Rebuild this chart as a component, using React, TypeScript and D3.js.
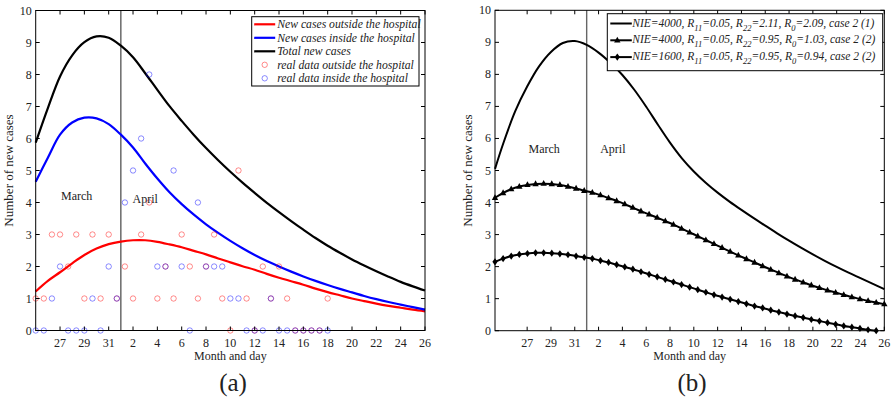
import React from "react";
import * as d3 from "d3";

// ---------- shared axis labels ----------
const tickDays = [2, 4, 6, 8, 10, 12, 14, 16, 18, 20, 22, 24, 26, 28, 30, 32];
const tickLabels = ["27", "29", "31", "2", "4", "6", "8", "10", "12", "14", "16", "18", "20", "22", "24", "26"];
const yTicks = [0, 1, 2, 3, 4, 5, 6, 7, 8, 9, 10];
const monthBoundaryDay = 7;

// ---------- panel (a): model curves, one value per day from 25 March ----------
const modelDaysA = d3.range(0, 33);
const outsideModel = [1.22, 1.55, 1.82, 2.1, 2.36, 2.56, 2.7, 2.78, 2.82, 2.82, 2.77, 2.69, 2.6, 2.49, 2.38, 2.25, 2.13, 2.01, 1.9, 1.77, 1.65, 1.54, 1.43, 1.31, 1.2, 1.1, 1.0, 0.92, 0.84, 0.77, 0.71, 0.65, 0.6];
const insideModel = [4.65, 5.4, 6.12, 6.5, 6.65, 6.63, 6.45, 6.12, 5.72, 5.22, 4.75, 4.32, 3.95, 3.62, 3.32, 3.05, 2.8, 2.57, 2.36, 2.17, 2.0, 1.84, 1.69, 1.55, 1.42, 1.3, 1.19, 1.08, 0.98, 0.89, 0.81, 0.73, 0.65];
const totalModel = [5.87, 6.95, 7.94, 8.6, 9.01, 9.19, 9.15, 8.9, 8.54, 8.04, 7.52, 7.01, 6.55, 6.11, 5.7, 5.32, 4.96, 4.62, 4.3, 3.99, 3.7, 3.42, 3.15, 2.89, 2.65, 2.43, 2.22, 2.03, 1.85, 1.68, 1.52, 1.38, 1.25];

// panel (a): reported cases (observation index 0..36)
const outsideReal = [1, 1, 3, 3, 2, 3, 1, 3, 1, 3, 1, 2, 1, 3, 4, 1, 2, 1, 3, 2, 1, 2, 3, 1, 0, 5, 1, 0, 2, 1, 2, 1, 0, 0, 0, 0, 1];
const insideReal = [0, 0, 1, 2, 0, 0, 0, 1, 0, 2, 1, 4, 5, 6, 8, 2, 2, 5, 2, 0, 4, 2, 2, 2, 1, 1, 0, 0, 0, 1, 0, 0, 0, 0, 0, 0, 0];

const legendA = [
  "New cases outside the hospital",
  "New cases inside the hospital",
  "Total new cases",
  "real data outside the hospital",
  "real data inside the hospital",
];

// ---------- panel (b) ----------
const modelDaysB = [-0.7, ...d3.range(0, 33)];
const case1Model = [5.05, 5.85, 6.85, 7.62, 8.25, 8.7, 8.98, 9.04, 8.92, 8.68, 8.36, 7.98, 7.52, 6.99, 6.42, 5.87, 5.38, 4.97, 4.62, 4.31, 4.03, 3.77, 3.52, 3.28, 3.04, 2.81, 2.59, 2.38, 2.18, 1.99, 1.81, 1.64, 1.47, 1.3];
// sampled model outputs (sample index 0..48 spans the axis)
const case2High = [4.15, 4.3, 4.42, 4.5, 4.55, 4.58, 4.59, 4.58, 4.55, 4.5, 4.44, 4.37, 4.31, 4.23, 4.14, 4.05, 3.95, 3.84, 3.73, 3.63, 3.53, 3.42, 3.31, 3.19, 3.07, 2.95, 2.83, 2.71, 2.59, 2.47, 2.35, 2.24, 2.13, 2.02, 1.91, 1.8, 1.7, 1.6, 1.51, 1.42, 1.34, 1.26, 1.19, 1.12, 1.05, 0.99, 0.93, 0.88, 0.83];
const case2Low = [2.15, 2.25, 2.33, 2.38, 2.41, 2.43, 2.43, 2.42, 2.4, 2.37, 2.33, 2.29, 2.25, 2.19, 2.13, 2.06, 1.99, 1.92, 1.84, 1.76, 1.68, 1.6, 1.52, 1.44, 1.36, 1.28, 1.2, 1.12, 1.05, 0.98, 0.91, 0.84, 0.77, 0.71, 0.64, 0.58, 0.52, 0.46, 0.41, 0.35, 0.3, 0.25, 0.2, 0.15, 0.11, 0.07, 0.03, 0.0];

type Part = [string, boolean];
const legendB: Part[][] = [
  [["NIE=4000, R", false], ["11", true], ["=0.05, R", false], ["22", true], ["=2.11, R", false], ["0", true], ["=2.09, case 2 (1)", false]],
  [["NIE=4000, R", false], ["11", true], ["=0.05, R", false], ["22", true], ["=0.95, R", false], ["0", true], ["=1.03, case 2 (2)", false]],
  [["NIE=1600, R", false], ["11", true], ["=0.05, R", false], ["22", true], ["=0.95, R", false], ["0", true], ["=0.94, case 2 (2)", false]],
];

const FONT = "'Liberation Serif', 'Times New Roman', Times, 'DejaVu Serif', serif";

type Scale = d3.ScaleLinear<number, number>;

function Frame({ x, y, labelX }: { x: Scale; y: Scale; labelX: number }) {
  const [x0, x1] = x.range();
  const [y0, y1] = y.range();
  const t = 4;
  const cx = (x0 + x1) / 2;
  const cy = (y0 + y1) / 2;
  return (
    <g fontFamily={FONT} fill="#222">
      {tickDays.map((d, i) => (
        <g key={"xt" + i}>
          <line x1={x(d)} x2={x(d)} y1={y0} y2={y0 - t} stroke="#000" />
          <line x1={x(d)} x2={x(d)} y1={y1} y2={y1 + t} stroke="#000" />
          <text x={x(d)} y={y0 + 16} fontSize={12} textAnchor="middle">{tickLabels[i]}</text>
        </g>
      ))}
      {yTicks.map((v) => (
        <g key={"yt" + v}>
          <line x1={x0} x2={x0 + t} y1={y(v)} y2={y(v)} stroke="#000" />
          <line x1={x1} x2={x1 - t} y1={y(v)} y2={y(v)} stroke="#000" />
          <text x={x0 - 4} y={y(v) + 4} fontSize={12} textAnchor="end">{v}</text>
        </g>
      ))}
      <rect x={x0} y={y1} width={x1 - x0} height={y0 - y1} fill="none" stroke="#000" strokeWidth={1} />
      <text x={cx} y={y0 + 29} fontSize={12} textAnchor="middle">Month and day</text>
      <text transform={`translate(${labelX},${cy}) rotate(-90)`} fontSize={13} textAnchor="middle">Number of new cases</text>
    </g>
  );
}

const tri = "M0,-3.6L3.2,2.2L-3.2,2.2Z";
const dia = "M0,-3.6L2.6,0L0,3.6L-2.6,0Z";

function PanelA() {
  const x = d3.scaleLinear().domain([0, 32]).range([35.7, 425]);
  const y = d3.scaleLinear().domain([0, 10]).range([330.5, 10.5]);
  const obsDay = d3.scaleLinear().domain([0, 36]).range([0, 24]);
  const line = d3.line<number>().x((_, i) => x(modelDaysA[i])).y((v) => y(v)).curve(d3.curveCatmullRom.alpha(0.5));
  const lgX = 251.7, lgY = 16.7, lgW = 167.3, lgH = 69.3;
  const rowY = (i: number) => lgY + 7.6 + i * 13.5;
  return (
    <g>
      <line x1={x(monthBoundaryDay)} x2={x(monthBoundaryDay)} y1={y(0)} y2={y(10)} stroke="#444" strokeWidth={1.2} />
      <path d={line(outsideModel) || ""} fill="none" stroke="#ff0000" strokeWidth={2.2} />
      <path d={line(insideModel) || ""} fill="none" stroke="#0000ff" strokeWidth={2.2} />
      <path d={line(totalModel) || ""} fill="none" stroke="#000" strokeWidth={2.2} />
      {outsideReal.map((v, i) => (
        <circle key={"o" + i} cx={x(obsDay(i))} cy={y(v)} r={2.7} fill="none" stroke="#ff0000" strokeOpacity={0.5} strokeWidth={0.9} />
      ))}
      {insideReal.map((v, i) => (
        <circle key={"n" + i} cx={x(obsDay(i))} cy={y(v)} r={2.7} fill="none" stroke="#0000ff" strokeOpacity={0.5} strokeWidth={0.9} />
      ))}
      <text x={x(3.37)} y={y(4.07)} fontFamily={FONT} fontSize={12} textAnchor="middle" fill="#222">March</text>
      <text x={x(9.0)} y={y(3.97)} fontFamily={FONT} fontSize={12} textAnchor="middle" fill="#222">April</text>
      <Frame x={x} y={y} labelX={13} />
      <g>
        <rect x={lgX} y={lgY} width={lgW} height={lgH} fill="#fff" stroke="#000" strokeWidth={1} />
        {["#ff0000", "#0000ff", "#000"].map((c, i) => (
          <line key={"ll" + i} x1={lgX + 2.5} x2={lgX + 23.5} y1={rowY(i)} y2={rowY(i)} stroke={c} strokeWidth={2.2} />
        ))}
        <circle cx={lgX + 13} cy={rowY(3)} r={2.7} fill="none" stroke="#ff0000" strokeOpacity={0.5} strokeWidth={0.9} />
        <circle cx={lgX + 13} cy={rowY(4)} r={2.7} fill="none" stroke="#0000ff" strokeOpacity={0.5} strokeWidth={0.9} />
        {legendA.map((s, i) => (
          <text key={"lt" + i} x={lgX + 25.5} y={rowY(i) + 4} fontFamily={FONT} fontStyle="italic" fontSize={11.7} fill="#222">{s}</text>
        ))}
      </g>
    </g>
  );
}

function LegendText({ parts, x, y }: { parts: Part[]; x: number; y: number }) {
  const out: React.ReactNode[] = [];
  let shifted = false;
  parts.forEach(([s, sub], i) => {
    let dy = 0;
    if (sub && !shifted) { dy = 4; shifted = true; }
    else if (!sub && shifted) { dy = -4; shifted = false; }
    out.push(
      <tspan key={i} dy={dy} fontSize={sub ? 8.5 : 11.5}>{s}</tspan>
    );
  });
  return <text x={x} y={y} fontFamily={FONT} fontStyle="italic" fill="#222">{out}</text>;
}

function PanelB() {
  const x = d3.scaleLinear().domain([-0.7, 32]).range([495, 884.3]);
  const y = d3.scaleLinear().domain([0, 10]).range([330.7, 10.3]);
  const sampleDay = d3.scaleLinear().domain([0, 48]).range([-0.7, 32]);
  const curve = d3.curveCatmullRom.alpha(0.5);
  const lineDays = d3.line<number>().x((_, i) => x(modelDaysB[i])).y((v) => y(v)).curve(curve);
  const lineSamples = d3.line<number>().x((_, i) => x(sampleDay(i))).y((v) => y(v)).curve(curve);
  const lgX = 607.3, lgY = 13.7, lgW = 275.4, lgH = 57;
  const rowY = (i: number) => lgY + 9.8 + i * 16.8;
  return (
    <g>
      <line x1={x(monthBoundaryDay)} x2={x(monthBoundaryDay)} y1={y(0)} y2={y(10)} stroke="#666" strokeWidth={1.4} />
      <path d={lineDays(case1Model) || ""} fill="none" stroke="#000" strokeWidth={2} />
      <path d={lineSamples(case2High) || ""} fill="none" stroke="#000" strokeWidth={2} />
      <path d={lineSamples(case2Low) || ""} fill="none" stroke="#000" strokeWidth={2} />
      {case2High.map((v, i) => (
        <path key={"t" + i} d={tri} transform={`translate(${x(sampleDay(i))},${y(v)})`} fill="#000" />
      ))}
      {case2Low.map((v, i) => (
        <path key={"d" + i} d={dia} transform={`translate(${x(sampleDay(i))},${y(v)})`} fill="#000" />
      ))}
      <text x={x(3.43)} y={y(5.55)} fontFamily={FONT} fontSize={12} textAnchor="middle" fill="#222">March</text>
      <text x={x(9.2)} y={y(5.55)} fontFamily={FONT} fontSize={12} textAnchor="middle" fill="#222">April</text>
      <Frame x={x} y={y} labelX={472} />
      <g>
        <rect x={lgX} y={lgY} width={lgW} height={lgH} fill="#fff" stroke="#000" strokeWidth={1} />
        {legendB.map((parts, i) => (
          <g key={"lb" + i}>
            <line x1={lgX + 3} x2={lgX + 24.5} y1={rowY(i)} y2={rowY(i)} stroke="#000" strokeWidth={2} />
            {i === 1 && <path d={tri} transform={`translate(${lgX + 10},${rowY(i)})`} fill="#000" />}
            {i === 2 && <path d={dia} transform={`translate(${lgX + 10},${rowY(i)})`} fill="#000" />}
            <LegendText parts={parts} x={lgX + 25} y={rowY(i) + 3} />
          </g>
        ))}
      </g>
    </g>
  );
}

export default function App() {
  return (
    <svg width={891} height={400} style={{ position: "absolute", left: 0, top: 0, background: "#fff" }}>
      <rect width={891} height={400} fill="#fff" />
      <PanelA />
      <PanelB />
      <text x={233} y={391} fontFamily={FONT} fontSize={25} textAnchor="middle" fill="#222">(a)</text>
      <text x={692} y={391} fontFamily={FONT} fontSize={25} textAnchor="middle" fill="#222">(b)</text>
    </svg>
  );
}
